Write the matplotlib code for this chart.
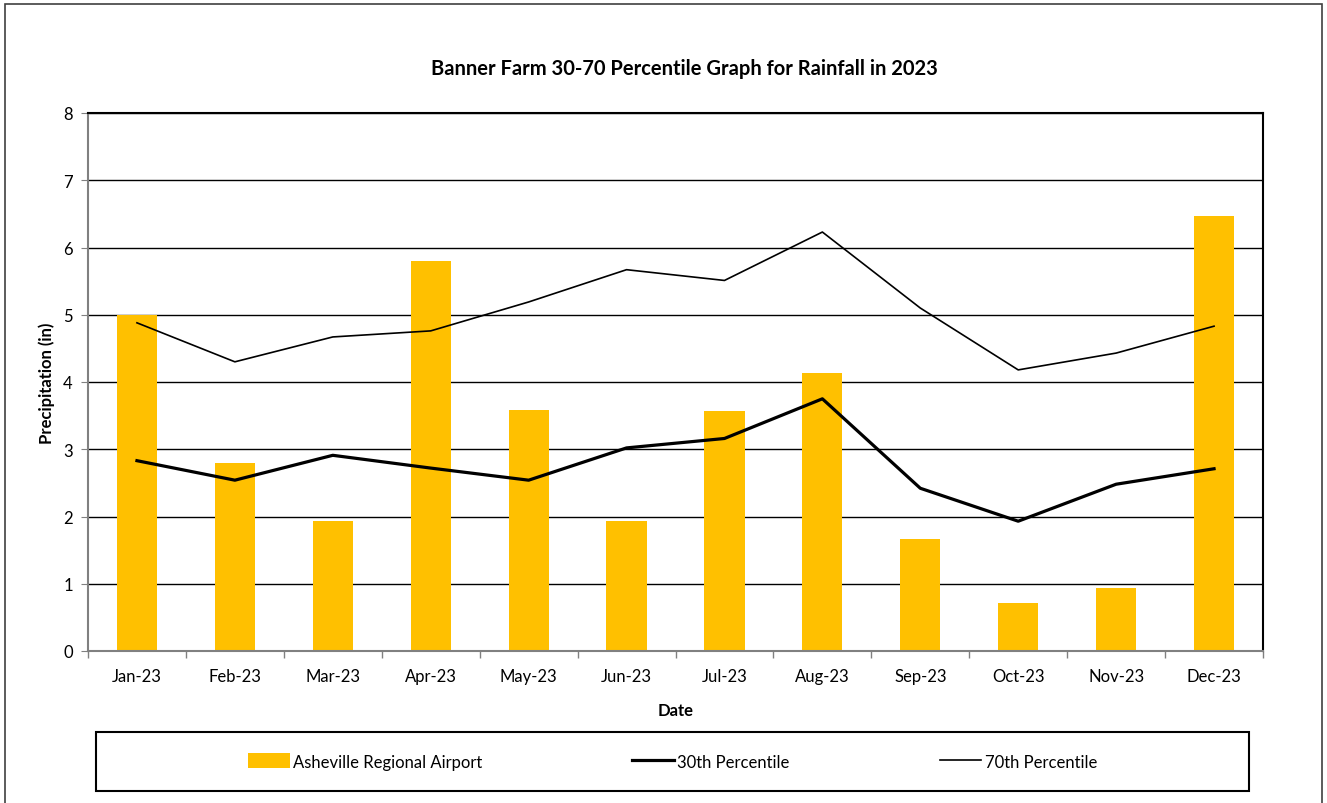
import matplotlib.pyplot as plt
import numpy as np
from matplotlib.patches import Rectangle

months = ["Jan-23", "Feb-23", "Mar-23", "Apr-23", "May-23", "Jun-23",
          "Jul-23", "Aug-23", "Sep-23", "Oct-23", "Nov-23", "Dec-23"]
airport = [5.00, 2.79, 1.93, 5.80, 3.59, 1.93, 3.57, 4.14, 1.67, 0.71, 0.94, 6.47]
pct30 = [2.83, 2.54, 2.91, 2.72, 2.54, 3.02, 3.16, 3.75, 2.42, 1.93, 2.48, 2.71]
pct70 = [4.88, 4.30, 4.67, 4.76, 5.19, 5.67, 5.51, 6.23, 5.10, 4.18, 4.43, 4.83]

plt.rcParams["font.family"] = ["Lato", "DejaVu Sans"]

fig = plt.figure(figsize=(13.27, 8.04), dpi=100)
ax = fig.add_axes([88 / 1327, 1 - 652 / 804, (1263 - 88) / 1327, (652 - 114) / 804])

x = np.arange(len(months))
bars = ax.bar(x, airport, width=0.41, color="#FFC000", label="Asheville Regional Airport", zorder=2)
l30, = ax.plot(x, pct30, color="black", lw=2.3, label="30th Percentile", zorder=3)
l70, = ax.plot(x, pct70, color="black", lw=1.2, label="70th Percentile", zorder=3)

ax.set_xlim(-0.5, len(months) - 0.5)
ax.set_ylim(0, 8)
ax.set_yticks(range(0, 9))
ax.yaxis.grid(True, color="black", lw=1.0, zorder=0)
ax.set_axisbelow(True)

# category labels at the centres, tick marks at the boundaries
ax.set_xticks(x)
ax.set_xticklabels(months, fontsize=12)
ax.tick_params(axis="x", which="major", length=0, pad=12)
ax.set_xticks(np.arange(-0.5, len(months)), minor=True)
ax.tick_params(axis="x", which="minor", length=5, color="#808080", width=1)
ax.tick_params(axis="y", labelsize=12, length=5, color="#808080", pad=6)

for side in ("left", "bottom"):
    ax.spines[side].set_color("#808080")
    ax.spines[side].set_linewidth(1.5)
for side in ("top", "right"):
    ax.spines[side].set_color("black")
    ax.spines[side].set_linewidth(1.5)

ax.set_title("Banner Farm 30-70 Percentile Graph for Rainfall in 2023",
             fontsize=14.5, fontweight="bold", pad=28, x=0.508)
ax.set_xlabel("Date", fontsize=12, fontweight="bold", labelpad=13)
ax.set_ylabel("Precipitation (in)", fontsize=12, fontweight="bold", labelpad=6)

leg = fig.legend([bars, l30, l70],
                 ["Asheville Regional Airport", "30th Percentile", "70th Percentile"],
                 loc="center", ncol=3,
                 bbox_to_anchor=(96 / 1327, 1 - 792 / 804, (1249 - 96) / 1327, 59 / 804),
                 fontsize=12, frameon=True, fancybox=False, edgecolor="black",
                 borderaxespad=0, handlelength=2.5, handleheight=1.0,
                 handletextpad=0.2, columnspacing=9.0)
leg.get_frame().set_visible(False)

# legend frame spans the full box
fig.patches.append(Rectangle((96 / 1327, 1 - 792 / 804), (1249 - 96) / 1327, 59 / 804,
                             transform=fig.transFigure, fill=False,
                             edgecolor="black", lw=1.5))

# outer chart border
fig.patches.append(Rectangle((5 / 1327, -0.02), 1317 / 1327, 1 - 5 / 804 + 0.02,
                             transform=fig.transFigure, fill=False,
                             edgecolor="#404040", lw=1.2))

fig.savefig("out.png", dpi=100)
